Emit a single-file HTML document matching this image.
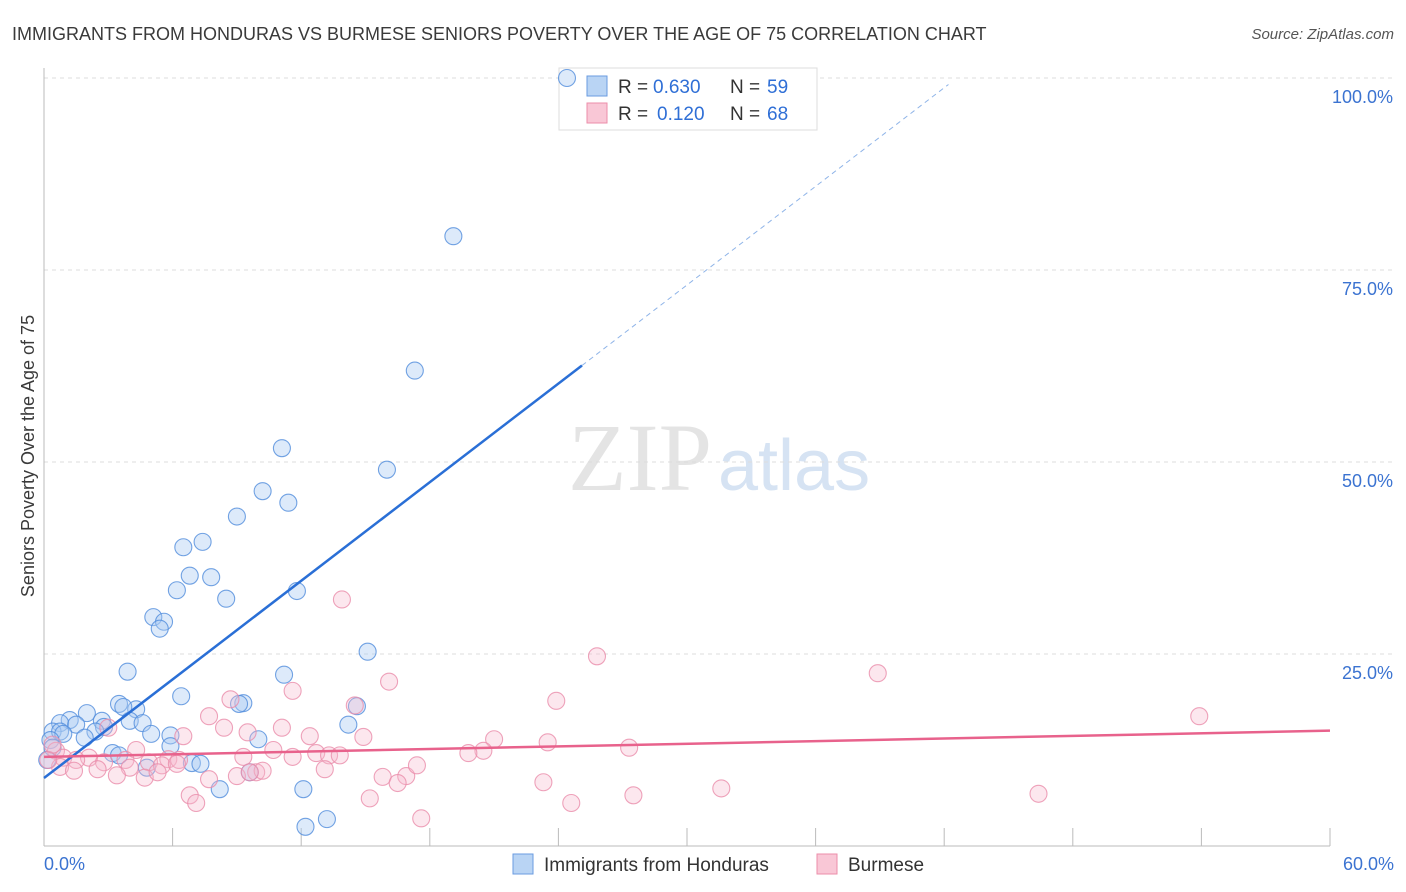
<!DOCTYPE html>
<html><head><meta charset="utf-8"><style>
body{margin:0;background:#fff;font-family:"Liberation Sans",sans-serif;}
#wrap{position:relative;width:1406px;height:892px;overflow:hidden}
</style></head><body>
<div id="wrap">
<svg id="svg" width="1406" height="892" xmlns="http://www.w3.org/2000/svg">
<text x="12" y="40" font-size="18" fill="#3a3a3a">IMMIGRANTS FROM HONDURAS VS BURMESE SENIORS POVERTY OVER THE AGE OF 75 CORRELATION CHART</text>
<text x="1394" y="39" font-size="15" fill="#555" text-anchor="end" font-style="italic">Source: ZipAtlas.com</text>
<text x="712" y="490" font-size="96" fill="#e4e4e4" font-family="Liberation Serif,serif" text-anchor="end">ZIP</text>
<text x="718" y="490" font-size="72" fill="#d6e3f3">atlas</text>
<text transform="translate(34,456) rotate(-90)" font-size="18" fill="#3a3a3a" text-anchor="middle">Seniors Poverty Over the Age of 75</text>
<g id="grid"></g>
<g>
<rect x="559" y="68" width="258" height="62" fill="#fff" stroke="#ddd"/>
<rect x="587" y="76" width="20" height="20" fill="#b9d4f4" stroke="#6a9be0"/>
<text x="618" y="93" font-size="19" fill="#333">R =</text>
<text x="653" y="93" font-size="19" fill="#2f6fd6">0.630</text>
<text x="730" y="93" font-size="19" fill="#333">N =</text>
<text x="767" y="93" font-size="19" fill="#2f6fd6">59</text>
<rect x="587" y="103" width="20" height="20" fill="#f9c7d6" stroke="#ec8eaa"/>
<text x="618" y="120" font-size="19" fill="#333">R =</text>
<text x="657" y="120" font-size="19" fill="#2f6fd6">0.120</text>
<text x="730" y="120" font-size="19" fill="#333">N =</text>
<text x="767" y="120" font-size="19" fill="#2f6fd6">68</text>
</g>
<g id="marks"></g><g id="lines"></g>
<g>
<rect x="513" y="854" width="20" height="20" fill="#b9d4f4" stroke="#6a9be0"/>
<text x="544" y="871" font-size="19" fill="#333">Immigrants from Honduras</text>
<rect x="817" y="854" width="20" height="20" fill="#f9c7d6" stroke="#ec8eaa"/>
<text x="848" y="871" font-size="19" fill="#333">Burmese</text>
</g>
</svg></div>
<script>
const xTicks=[0,6,12,18,24,30,36,42,48,54,60];
const yTicks=[25,50,75,100];
const blueX=[24.4,19.1,17.3,11.1,16.0,10.2,11.4,9.0,6.5,7.4,6.2,6.8,7.8,8.5,11.8,5.1,5.6,5.4,15.1,3.9,11.2,6.4,9.3,3.5,9.1,14.6,4.3,3.7,2.0,1.2,2.7,0.75,1.5,2.8,4.0,4.6,14.2,0.4,0.75,0.9,2.4,5.0,1.9,5.9,10.0,5.9,3.2,3.5,6.9,7.3,4.8,9.6,8.2,12.1,13.2,12.2,0.3,0.4,0.15];
const blueY=[100,79.4,61.9,51.8,49.0,46.2,44.7,42.9,38.9,39.6,33.3,35.2,35.0,32.2,33.2,29.8,29.2,28.3,25.3,22.7,22.3,19.5,18.6,18.5,18.5,18.2,17.8,18.1,17.3,16.4,16.3,16.0,15.8,15.5,16.3,16.0,15.8,14.9,14.9,14.6,14.9,14.6,14.1,14.4,13.9,13.0,12.1,11.8,10.8,10.7,10.2,9.6,7.4,7.4,3.5,2.5,13.8,12.8,11.2];
const pinkX=[13.9,25.8,38.9,16.1,11.6,23.9,8.7,14.5,53.9,7.7,8.4,3.0,6.5,9.5,11.1,12.4,14.9,21.0,23.5,27.3,20.5,19.8,10.7,4.3,12.7,13.3,13.8,11.6,9.3,5.8,2.1,0.56,0.9,1.5,2.8,3.8,4.9,6.3,5.5,6.2,0.75,1.4,2.5,4.0,3.4,4.7,5.3,7.7,9.0,9.9,10.2,9.6,13.1,15.8,16.9,17.4,16.5,23.3,31.6,6.8,7.1,27.5,15.2,24.6,46.4,17.6,0.2,0.4];
const pinkY=[32.1,24.7,22.5,21.4,20.2,18.9,19.1,18.3,16.9,16.9,15.4,15.4,14.3,14.8,15.4,14.3,14.2,13.9,13.5,12.8,12.4,12.1,12.5,12.5,12.1,11.8,11.8,11.6,11.6,11.3,11.5,12.4,11.5,11.2,10.9,11.2,10.9,11.2,10.5,10.7,10.3,9.8,10.0,10.2,9.2,8.9,9.6,8.7,9.1,9.6,9.8,9.6,10.0,9.0,9.1,10.5,8.2,8.3,7.5,6.6,5.6,6.6,6.2,5.6,6.8,3.6,11.2,13.2];
const blueFit=[8.85,2.14];
const pinkFit=[11.6,0.057];
const X=v=>44+v*(1286/60), Y=v=>846-v*7.68;
const NS='http://www.w3.org/2000/svg';
function mk(t,a,p){const e=document.createElementNS(NS,t);for(const k in a)e.setAttribute(k,a[k]);p.appendChild(e);return e;}
const grid=document.getElementById('grid'),marks=document.getElementById('marks'),lines=document.getElementById('lines');
yTicks.forEach(v=>{
 const g=mk('line',{x1:44,x2:1394,y1:Y(v),y2:Y(v),stroke:'#ddd','stroke-dasharray':'4,4'},grid);
 
 
 const t=mk('text',{x:1393,y:Y(v)+25,'font-size':18,fill:'#3b73d1','text-anchor':'end'},grid);
 t.textContent=v.toFixed(1)+'%';
 
 
});
mk('line',{x1:44,x2:44,y1:68,y2:846,stroke:'#bbb'},grid);
mk('line',{x1:44,x2:1330,y1:846,y2:846,stroke:'#bbb'},grid);
xTicks.forEach((v,i)=>{
 if(i===0)return;
 const l=mk('line',{x1:X(v),x2:X(v),y1:828,y2:846,stroke:'#bbb'},grid);
 
 
});
[[0,'0.0%','start',44],[60,'60.0%','end',1394]].forEach(a=>{
 const t=mk('text',{x:a[3],y:870,'font-size':18,fill:'#3b73d1','text-anchor':a[2]},grid);
 t.textContent=a[1];
 
 
});
blueX.forEach((x,i)=>{
 const c=mk('circle',{cx:X(x),cy:Y(blueY[i]),r:8.5,fill:'rgba(170,202,242,0.4)',stroke:'rgba(80,140,220,0.8)','stroke-width':1.1},marks);
 
 
});
pinkX.forEach((x,i)=>{
 const c=mk('circle',{cx:X(x),cy:Y(pinkY[i]),r:8.5,fill:'rgba(246,185,205,0.35)',stroke:'rgba(234,140,170,0.8)','stroke-width':1.1},marks);
 
 
});
const bx1=25.1, bx2=42.2;
let l=mk('line',{x1:X(0),y1:Y(blueFit[0]),x2:X(bx1),y2:Y(blueFit[0]+blueFit[1]*bx1),stroke:'#2a6fd6','stroke-width':2.5},lines);


l=mk('line',{x1:X(bx1),y1:Y(blueFit[0]+blueFit[1]*bx1),x2:X(bx2),y2:Y(blueFit[0]+blueFit[1]*bx2),stroke:'#8fb4e8','stroke-width':1,'stroke-dasharray':'5,4'},lines);


l=mk('line',{x1:X(0),y1:Y(pinkFit[0]),x2:X(60),y2:Y(pinkFit[0]+pinkFit[1]*60),stroke:'#e8628c','stroke-width':2.5},lines);


</script>
</body></html>
